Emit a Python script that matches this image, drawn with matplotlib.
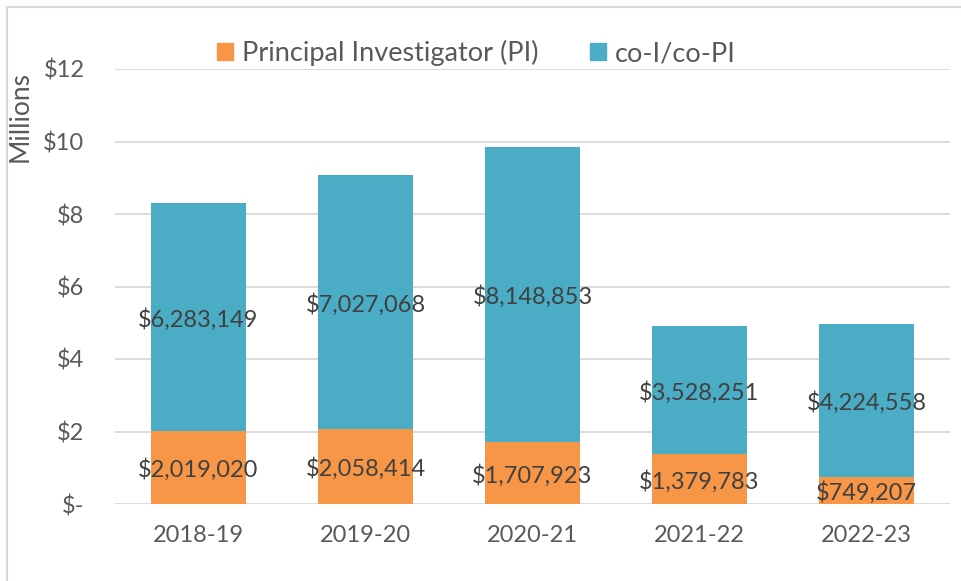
import matplotlib
matplotlib.use("Agg")
import matplotlib.pyplot as plt
from matplotlib.patches import Rectangle, Patch
from matplotlib.ticker import FuncFormatter

categories = ["2018-19", "2019-20", "2020-21", "2021-22", "2022-23"]
pi_values = [2019020, 2058414, 1707923, 1379783, 749207]
coi_values = [6283149, 7027068, 8148853, 3528251, 4224558]
series_names = ["Principal Investigator (PI)", "co-I/co-PI"]

ORANGE = "#F79646"
TEAL = "#4BACC6"
TICK = "#595959"
LABEL = "#404040"

plt.rcParams["font.family"] = ["Lato", "DejaVu Sans"]

W, H = 961, 581
fig = plt.figure(figsize=(W / 100, H / 100), dpi=100)

# outer chart border
fig.patches.append(Rectangle((7 / W, -0.1), 1.2, 1 - 7 / H + 0.1, transform=fig.transFigure,
                             fill=False, edgecolor="#D9D9D9", linewidth=1.5))

ax = fig.add_axes([115 / W, 1 - 504 / H, (950 - 115) / W, (504 - 69) / H])

pi_m = [v / 1e6 for v in pi_values]
coi_m = [v / 1e6 for v in coi_values]
x = range(len(categories))
bw = 0.57
ax.bar(x, pi_m, width=bw, color=ORANGE, zorder=3, label=series_names[0])
ax.bar(x, coi_m, width=bw, bottom=pi_m, color=TEAL, zorder=3, label=series_names[1])

for i in x:
    ax.text(i, pi_m[i] / 2 - 0.06, f"${pi_values[i]:,}", ha="center", va="center",
            fontsize=17, color=LABEL, zorder=4)
    ax.text(i, pi_m[i] + coi_m[i] / 2 - 0.06, f"${coi_values[i]:,}", ha="center", va="center",
            fontsize=17, color=LABEL, zorder=4)

ax.set_ylim(0, 12)
ax.set_xlim(-0.5, 4.5)
ax.set_yticks(range(0, 13, 2))
ax.yaxis.set_major_formatter(FuncFormatter(lambda v, p: "$-" if v == 0 else f"${int(v)}"))
ax.set_xticks(list(x))
ax.set_xticklabels(categories)
ax.grid(axis="y", color="#D9D9D9", linewidth=1.3, zorder=0)
for s in ax.spines.values():
    s.set_visible(False)
ax.tick_params(axis="both", length=0, labelsize=17, colors=TICK)
ax.tick_params(axis="y", pad=22)
ax.tick_params(axis="x", pad=15)

fig.text(20 / W, 1 - 117 / H, "Millions", rotation=90, ha="center", va="center",
         fontsize=19, color=TICK)

handles = [Patch(color=ORANGE), Patch(color=TEAL)]
fig.legend(handles, series_names, loc="center", bbox_to_anchor=(476 / W, 1 - 53 / H),
           ncol=2, frameon=False, fontsize=19.5, labelcolor=TICK, handlelength=0.62,
           handleheight=0.62, handletextpad=0.3, columnspacing=1.9)

fig.savefig("out.png", dpi=100)
